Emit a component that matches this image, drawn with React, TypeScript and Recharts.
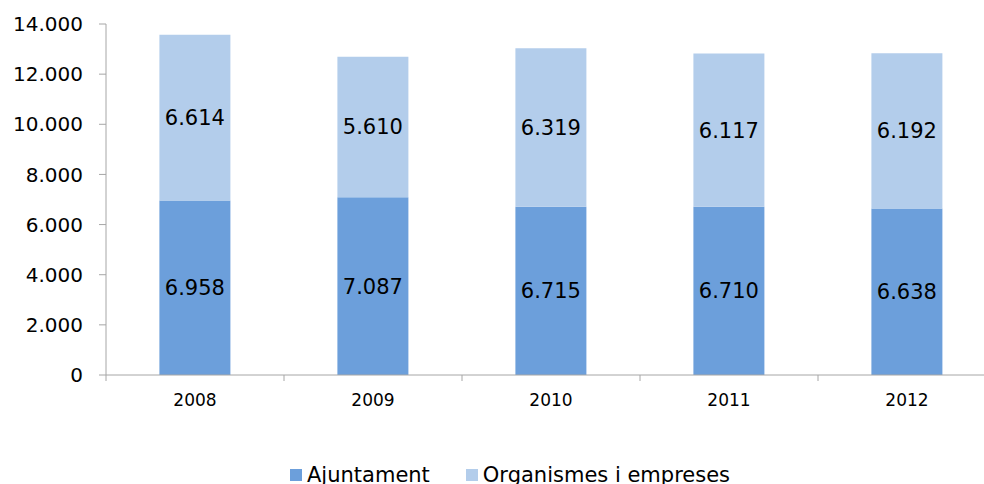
import { BarChart, Bar, XAxis, YAxis, Legend, LabelList } from 'recharts';

const years = ['2008', '2009', '2010', '2011', '2012'];
const ajuntament = [6958, 7087, 6715, 6710, 6638];
const organismes = [6614, 5610, 6319, 6117, 6192];
const yTicks = [0, 2000, 4000, 6000, 8000, 10000, 12000, 14000];

const data = years.map((year, i) => ({
  year,
  ajuntament: ajuntament[i],
  organismes: organismes[i],
}));

const FONT = '"DejaVu Sans", Verdana, sans-serif';
const CHART_W = 1000;
const CHART_H = 484;
const Y_AXIS_W = 106;
const RIGHT = 4;
const DARK = '#6C9FDB';
const LIGHT = '#B3CDEB';
const AXIS = '#A6A6A6';

// 12000 -> "12.000"
const fmt = (v: any) => String(v).replace(/\B(?=(\d{3})+(?!\d))/g, '.');

const halfBand = (CHART_W - Y_AXIS_W - RIGHT) / years.length / 2;

function YearTick(props: any) {
  const { x, y, payload } = props;
  return (
    <g>
      <line x1={x - halfBand} x2={x - halfBand} y1={y} y2={y + 6} stroke={AXIS} />
      <text x={x} y={y} dy={31} textAnchor="middle" fontSize={17} fontFamily={FONT} fill="#000">
        {payload.value}
      </text>
    </g>
  );
}

function LegendContent() {
  const items = [
    { name: 'Ajuntament', color: DARK },
    { name: 'Organismes i empreses', color: LIGHT },
  ];
  return (
    <div style={{ display: 'flex', alignItems: 'center', fontFamily: FONT, fontSize: 21, lineHeight: '24px', color: '#000' }}>
      {items.map((it, i) => (
        <div key={it.name} style={{ display: 'flex', alignItems: 'center', marginLeft: i ? 36 : 0 }}>
          <span style={{ width: 12, height: 12, background: it.color, display: 'inline-block', marginRight: 5 }} />
          <span style={{ whiteSpace: 'nowrap' }}>{it.name}</span>
        </div>
      ))}
    </div>
  );
}

export default function App() {
  return (
    <div style={{ position: 'absolute', left: 0, top: 0, width: 984, height: 484, overflow: 'hidden', background: '#fff' }}>
      <BarChart
        width={CHART_W}
        height={CHART_H}
        data={data}
        margin={{ top: 24, right: RIGHT, bottom: 0, left: 0 }}
        barCategoryGap="30%"
      >
        <XAxis
          dataKey="year"
          height={109}
          stroke={AXIS}
          tickLine={false}
          tickSize={0}
          tickMargin={0}
          tick={<YearTick />}
          interval={0}
        />
        <YAxis
          width={Y_AXIS_W}
          domain={[0, 14000]}
          ticks={yTicks}
          tickFormatter={fmt}
          stroke={AXIS}
          tickSize={7}
          tickMargin={16}
          tick={{ fill: '#000', fontSize: 20, fontFamily: FONT }}
        />
        <Legend
          layout="horizontal"
          verticalAlign="middle"
          align="center"
          content={<LegendContent />}
          wrapperStyle={{ top: 463, left: 290, width: 'auto', height: 'auto' }}
        />
        <Bar dataKey="ajuntament" stackId="a" fill={DARK} isAnimationActive={false}>
          <LabelList dataKey="ajuntament" position="center" formatter={fmt} fill="#000" fontSize={21} fontFamily={FONT} />
        </Bar>
        <Bar dataKey="organismes" stackId="a" fill={LIGHT} isAnimationActive={false}>
          <LabelList dataKey="organismes" position="center" formatter={fmt} fill="#000" fontSize={21} fontFamily={FONT} />
        </Bar>
      </BarChart>
    </div>
  );
}
